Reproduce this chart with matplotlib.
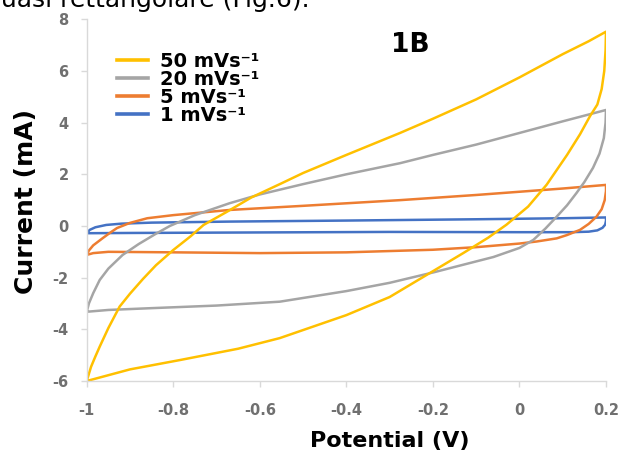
import matplotlib
matplotlib.use("Agg")
import matplotlib.pyplot as plt

plt.rcParams['font.family'] = ['DejaVu Sans']
plt.rcParams['axes.unicode_minus'] = False

# ---- data ----
labels = ["50 mVs\u207b\u00b9", "20 mVs\u207b\u00b9", "5 mVs\u207b\u00b9", "1 mVs\u207b\u00b9"]
colors = ["#FFC000", "#A5A5A5", "#ED7D31", "#4472C4"]

v50 = [-1.000, -0.990, -0.980, -0.970, -0.950, -0.924, -0.900, -0.870, -0.840, -0.800,
       -0.760, -0.730, -0.676, -0.620, -0.550, -0.500, -0.400, -0.276, -0.200, -0.100,
       0.000, 0.100, 0.160, 0.200,
       0.199, 0.196, 0.190, 0.180, 0.163, 0.140, 0.110, 0.063, 0.020, -0.030,
       -0.072, -0.130, -0.195, -0.300, -0.400, -0.554, -0.650, -0.785, -0.900, -1.000]
i50 = [-6.00, -5.45, -5.05, -4.67, -3.95, -3.12, -2.62, -2.05, -1.52, -0.93,
       -0.40, 0.04, 0.55, 1.10, 1.65, 2.05, 2.75, 3.60, 4.15, 4.90,
       5.75, 6.65, 7.15, 7.52,
       6.80, 6.00, 5.30, 4.70, 4.25, 3.55, 2.75, 1.60, 0.75, 0.05,
       -0.45, -1.05, -1.70, -2.75, -3.45, -4.34, -4.75, -5.19, -5.55, -6.00]

v20 = [-1.000, -0.995, -0.985, -0.970, -0.950, -0.917, -0.880, -0.840, -0.808, -0.750,
       -0.670, -0.600, -0.500, -0.400, -0.276, -0.200, -0.100, 0.000, 0.100, 0.200,
       0.199, 0.195, 0.185, 0.170, 0.150, 0.132, 0.110, 0.086, 0.060, 0.032,
       0.000, -0.060, -0.130, -0.195, -0.300, -0.400, -0.554, -0.700, -0.850, -0.950, -1.000]
i20 = [-3.32, -3.00, -2.60, -2.09, -1.65, -1.12, -0.70, -0.30, 0.00, 0.42,
       0.88, 1.22, 1.62, 2.00, 2.43, 2.75, 3.15, 3.60, 4.05, 4.49,
       4.00, 3.40, 2.80, 2.25, 1.70, 1.28, 0.80, 0.36, -0.10, -0.54,
       -0.85, -1.20, -1.50, -1.78, -2.20, -2.52, -2.93, -3.08, -3.18, -3.25, -3.32]

v5 = [-1.000, -0.995, -0.985, -0.963, -0.945, -0.930, -0.900, -0.860, -0.800, -0.670,
      -0.500, -0.276, -0.100, 0.100, 0.200,
      0.200, 0.197, 0.190, 0.178, 0.160, 0.140, 0.110, 0.086, 0.040, 0.000,
      -0.100, -0.200, -0.400, -0.600, -0.800, -0.950, -0.985, -1.000]
i5 = [-1.12, -0.95, -0.75, -0.47, -0.25, -0.08, 0.12, 0.30, 0.42, 0.62,
      0.78, 1.00, 1.20, 1.45, 1.59,
      1.35, 1.00, 0.65, 0.36, 0.08, -0.15, -0.35, -0.48, -0.60, -0.68,
      -0.82, -0.92, -1.02, -1.05, -1.02, -1.00, -1.05, -1.12]

v1 = [-1.000, -0.993, -0.980, -0.955, -0.920, -0.850, -0.670, -0.400, -0.100, 0.100, 0.200,
      0.200, 0.198, 0.192, 0.180, 0.160, 0.120, 0.000, -0.300, -0.600, -0.900, -1.000]
i1 = [-0.28, -0.15, -0.05, 0.04, 0.09, 0.13, 0.17, 0.21, 0.26, 0.30, 0.33,
      0.20, 0.05, -0.07, -0.17, -0.22, -0.24, -0.24, -0.23, -0.25, -0.27, -0.28]

xticks = [-1, -0.8, -0.6, -0.4, -0.2, 0, 0.2]
xticklabels = ["-1", "-0.8", "-0.6", "-0.4", "-0.2", "0", "0.2"]
yticks = [-6, -4, -2, 0, 2, 4, 6, 8]
yticklabels = ["-6", "-4", "-2", "0", "2", "4", "6", "8"]

# ---- figure ----
fig = plt.figure(figsize=(6.23, 4.58), dpi=100)
ax = fig.add_axes([0.1392, 0.1681, 0.9727 - 0.1392, 0.9579 - 0.1681])

series = [(v50, i50), (v20, i20), (v5, i5), (v1, i1)]
handles = {}
for idx in [3, 2, 1, 0]:
    v, i = series[idx]
    ln, = ax.plot(v, i, color=colors[idx], lw=1.8, solid_joinstyle='round')
    handles[idx] = ln

ax.set_xlim(-1, 0.2)
ax.set_ylim(-6, 8)
ax.set_xticks(xticks)
ax.set_xticklabels(xticklabels)
ax.set_yticks(yticks)
ax.set_yticklabels(yticklabels)

for s in ['top', 'right']:
    ax.spines[s].set_visible(False)
for s in ['left', 'bottom']:
    ax.spines[s].set_color('#D9D9D9')
    ax.spines[s].set_linewidth(1.0)

ax.tick_params(axis='both', direction='out', length=4, width=1, color='#D9D9D9',
               labelcolor='#707070', labelsize=10.5)
ax.tick_params(axis='x', pad=11.5)
ax.tick_params(axis='y', pad=9)
for t in ax.get_xticklabels() + ax.get_yticklabels():
    t.set_fontweight('bold')

ax.set_xlabel("Potential (V)", fontsize=16, fontweight='bold')
ax.xaxis.set_label_coords(0.584, -0.166)
ax.xaxis.label.set_va('center')
ax.set_ylabel("Current (mA)", fontsize=18, fontweight='bold')
ax.yaxis.set_label_coords(-0.117, 0.495)
ax.yaxis.label.set_va('center')

ax.text(0.623, 0.929, "1B", transform=ax.transAxes, fontsize=19, fontweight='bold',
        ha='center', va='center')

leg = ax.legend([handles[k] for k in range(4)], labels, loc='upper left',
                bbox_to_anchor=(0.058, 0.91), frameon=False, borderaxespad=0,
                borderpad=0, prop={'weight': 'bold', 'size': 14}, handlelength=1.6,
                handletextpad=0.62, labelspacing=-0.05)
for l in leg.get_lines():
    l.set_linewidth(2.6)

fig.text(310 / 623, 1 - 7 / 458, "quasi rettangolare (Fig.6).", fontsize=18,
         ha='right', va='baseline')

fig.savefig("out.png", dpi=100)
